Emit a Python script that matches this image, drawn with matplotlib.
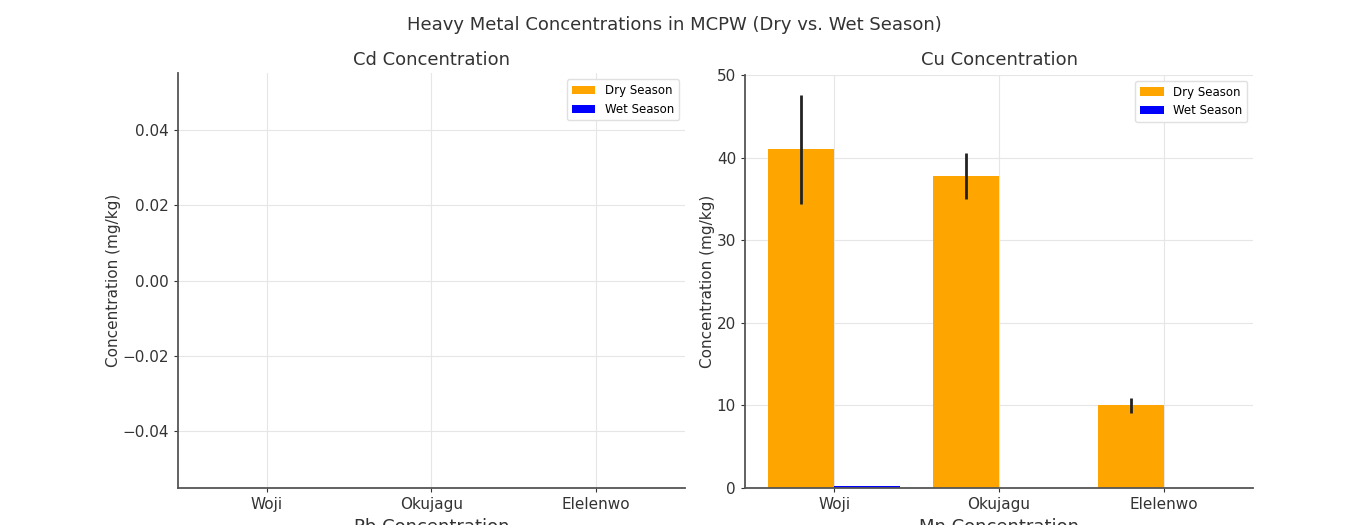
import numpy as np
import matplotlib
matplotlib.use("Agg")
import matplotlib.pyplot as plt

# data
sites = ["Woji", "Okujagu", "Elelenwo"]

cd_dry     = [0.0, 0.0, 0.0]
cd_wet     = [0.0, 0.0, 0.0]
cd_dry_err = [0.0, 0.0, 0.0]

cu_dry     = [41.0, 37.8, 10.0]
cu_wet     = [0.25, 0.0, 0.0]
cu_dry_err = [6.6, 2.8, 0.9]

DRY_COLOR = "#FFA500"
WET_COLOR = "#0000FF"
WIDTH = 0.4

plt.rcParams["font.family"] = "DejaVu Sans"

fig = plt.figure(figsize=(13.48, 5.25), dpi=100)
fig.suptitle("Heavy Metal Concentrations in MCPW (Dry vs. Wet Season)",
             fontsize=13, color="#333333", y=0.952, va="center")


def draw_panel(ax, title, dry, wet, dry_err, pad):
    x = np.arange(len(sites))
    ax.bar(x - WIDTH / 2, dry, WIDTH, color=DRY_COLOR, label="Dry Season",
           yerr=dry_err, error_kw=dict(ecolor="#222222", elinewidth=2, capsize=0))
    ax.bar(x + WIDTH / 2, wet, WIDTH, color=WET_COLOR, label="Wet Season")
    ax.set_title(title, fontsize=13, color="#333333", pad=pad)
    ax.set_xticks(x)
    ax.set_xticklabels(sites)
    ax.set_ylabel("Concentration (mg/kg)", fontsize=11, color="#333333", labelpad=1)
    ax.grid(True, color="#e6e6e6", linewidth=0.8)
    ax.set_axisbelow(True)
    for s in ["top", "right"]:
        ax.spines[s].set_visible(False)
    for s in ["left", "bottom"]:
        ax.spines[s].set_color("#555555")
        ax.spines[s].set_linewidth(1.3)
    ax.tick_params(labelsize=11, colors="#333333", length=3)
    ax.legend(loc="upper right", fontsize=8.5, framealpha=1,
              edgecolor="#e0e0e0", handlelength=2)


ax1 = fig.add_axes([0.132, 0.0705, 0.376, 0.790])
draw_panel(ax1, "Cd Concentration", cd_dry, cd_wet, cd_dry_err, pad=6)
ax1.set_ylim(-0.055, 0.055)
ax1.set_xlim(-0.54, 2.54)

ax2 = fig.add_axes([0.5527, 0.0705, 0.3768, 0.7867])
draw_panel(ax2, "Cu Concentration", cu_dry, cu_wet, cu_dry_err, pad=6 + 2 * 0.72)
ax2.set_xlim(-0.54, 2.54)
ax2.set_ylim(0, 50)

# titles of the lower row, cut off by the figure edge as in the source
fig.text(0.3205, 0.014, "Pb Concentration", ha="center", va="top",
         fontsize=13, color="#333333")
fig.text(0.741, 0.014, "Mn Concentration", ha="center", va="top",
         fontsize=13, color="#333333")

fig.savefig("out.png", dpi=100)
